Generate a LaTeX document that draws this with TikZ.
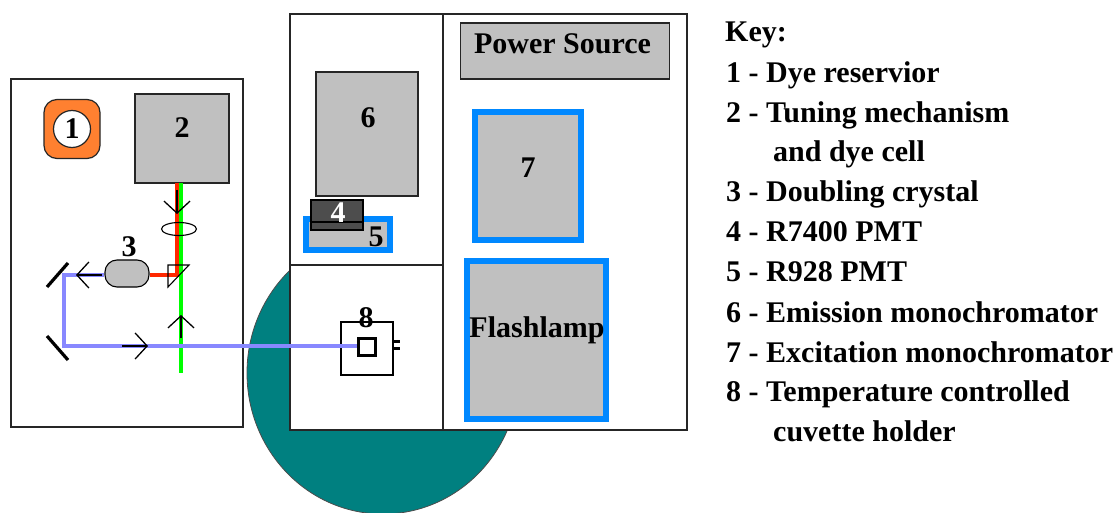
\documentclass[tikz,border=0pt]{standalone}
\usepackage{fontspec}
\setmainfont{Liberation Serif}
\usepackage{tikz}
\usetikzlibrary{arrows.meta,shapes.geometric}
\definecolor{panelgray}{RGB}{192,192,192}
\definecolor{darkgray4}{RGB}{77,77,77}
\definecolor{lampblue}{RGB}{0,136,255}
\definecolor{beamblue}{RGB}{136,136,255}
\definecolor{beamgreen}{RGB}{0,255,0}
\definecolor{beamred}{RGB}{255,40,0}
\definecolor{dyeorange}{RGB}{255,128,48}
\definecolor{teal8}{RGB}{0,128,128}
\tikzset{
  panel/.style={draw=black!85,line width=1.6pt,fill=white,inner sep=0pt},
  grybox/.style={draw=black!85,line width=1.4pt,fill=panelgray,inner sep=0pt},
  lampbox/.style={draw=lampblue,line width=6pt,fill=panelgray,inner sep=0pt},
  bigtxt/.style={font=\fontsize{30}{30}\selectfont\bfseries,inner sep=0pt},
  numtxt/.style={font=\fontsize{30}{30}\selectfont\bfseries,inner sep=0pt},
  keytxt/.style={font=\fontsize{30}{30}\selectfont\bfseries,inner sep=0pt,anchor=base west},
  beamarrow/.style={draw=black,line width=1.3pt,-{Straight Barb[length=12pt,width=26pt,line width=1.3pt]}}
}
\begin{document}
\begin{tikzpicture}[x=1pt,y=-1pt]
\useasboundingbox (0,0) rectangle (1114,513);
\begin{scope}
\clip (0,0) rectangle (1114,513);
\draw[black!70,line width=0.8pt,fill=teal8] (383,373) ellipse [x radius=136,y radius=141];
\end{scope}
% left panel
\node[panel,minimum width=232pt,minimum height=348pt] (dyelaser) at (127,253) {};
\node[draw=black!85,line width=1.2pt,fill=dyeorange,rounded corners=13pt,minimum width=56pt,minimum height=59pt,inner sep=0pt] (dyeres) at (72,129) {};
\node[circle,draw=black!85,line width=1.2pt,fill=white,minimum size=37pt,inner sep=0pt,numtxt] (one) at (72,129) {1};
\node[grybox,minimum width=94pt,minimum height=89pt] (tuning) at (182,138.5) {};
\node[numtxt] (lab2) at (182,128) {2};
% main panel
\node[panel,minimum width=397pt,minimum height=416pt] (mainbox) at (488.5,222) {};
\coordinate (vtop) at (443,14);
\coordinate (vbot) at (443,430);
\coordinate (hleft) at (290,265);
\coordinate (hright) at (443,265);
\draw[draw=black!85,line width=1.4pt] (vtop) -- (vbot);
\draw[draw=black!85,line width=1.4pt] (hleft) -- (hright);
\node[grybox,minimum width=209pt,minimum height=56pt] (power) at (565,51) {};
\node[bigtxt] (lablpower) at (562.5,44) {Power Source};
\node[grybox,minimum width=102pt,minimum height=124pt] (emission) at (367,134) {};
\node[numtxt] (lab6) at (368,118) {6};
\node[lampbox,minimum width=106pt,minimum height=127.5pt] (excit) at (528,176) {};
\node[numtxt] (lab7) at (528,168) {7};
\node[lampbox,minimum width=139pt,minimum height=157pt] (flash) at (536.5,340) {};
\node[bigtxt] (lablamp) at (537,330) {Flashlamp};
\node[lampbox,minimum width=84.5pt,minimum height=31pt] (pmtfive) at (348,234.5) {};
\node[numtxt] (lab5) at (376,237) {5};
\node[draw=black,line width=1.2pt,fill=darkgray4,minimum width=52pt,minimum height=30pt,inner sep=0pt] (pmtfour) at (337,215) {};
\coordinate (fourl) at (311,222);
\coordinate (fourr) at (363,222);
\draw[black,line width=1.2pt] (fourl) -- (fourr);
\node[numtxt,text=white] (lab4) at (338,213) {4};
% cuvette holder
\node[draw=black,line width=1.1pt,fill=white,minimum width=52pt,minimum height=53pt,inner sep=0pt] (holder) at (367,348.5) {};
\coordinate (tickaa) at (393,341);
\coordinate (tickab) at (400,341);
\coordinate (tickba) at (393,348.5);
\coordinate (tickbb) at (400,348.5);
\draw[line width=3pt] (tickaa) -- (tickab);
\draw[line width=3pt] (tickba) -- (tickbb);
% beams
\coordinate (greentop) at (181,183);
\coordinate (greenbot) at (181,373);
\coordinate (redtop) at (177,183);
\coordinate (redbend) at (177,275);
\coordinate (mirrortop) at (64,275);
\coordinate (mirrorbot) at (64,346);
\node[draw=black,line width=3.6pt,fill=white,minimum size=17pt,inner sep=0pt] (cuvette) at (367,347) {};
\node[draw=black,line width=1.1pt,fill=panelgray,rounded corners=12pt,minimum width=44pt,minimum height=27pt,inner sep=0pt] (crystal) at (127,273.5) {};
\draw[beamgreen,line width=4pt] (greentop) -- (greenbot);
\draw[beamred,line width=4pt] (redtop) -- (redbend) -- (crystal.east |- redbend);
\draw[beamblue,line width=3.2pt] (crystal.west |- mirrortop) -- (mirrortop) -- (mirrorbot) -- (cuvette.west |- mirrorbot);
\node[numtxt] (lab3) at (129,247) {3};
\node[numtxt] (lab8) at (366,318) {8};
% optics
\node[ellipse,draw=black,line width=1.1pt,minimum width=35pt,minimum height=13pt,inner sep=0pt] (lens) at (179,229) {};
\coordinate (prisma) at (168,265);
\coordinate (prismb) at (189,265);
\coordinate (prismc) at (168,287);
\draw[line width=1.1pt] (prisma) -- (prismb) -- (prismc) -- cycle;
\coordinate (mtl) at (47,287);
\coordinate (mtr) at (68,263);
\coordinate (mbl) at (47,336);
\coordinate (mbr) at (68,360);
\draw[line width=3.2pt] (mtl) -- (mtr);
\draw[line width=3.2pt] (mbl) -- (mbr);
% arrows
\coordinate (arra) at (177,190);
\coordinate (arrb) at (177,214);
\coordinate (arrc) at (102,275);
\coordinate (arrd) at (76,275);
\coordinate (arre) at (122,346);
\coordinate (arrf) at (148,346);
\coordinate (arrg) at (181,338);
\coordinate (arrh) at (181,315);
\draw[beamarrow] (arra) -- (arrb);
\draw[beamarrow] (arrc) -- (arrd);
\draw[beamarrow] (arre) -- (arrf);
\draw[beamarrow] (arrg) -- (arrh);
% key
\node[keytxt] (keyhead) at (725,42) {Key:};
\node[keytxt] (keya) at (726,83) {1 - Dye reservior};
\node[keytxt] (keyb) at (726,123) {2 - Tuning mechanism};
\node[keytxt] (keybb) at (773,162) {and dye cell};
\node[keytxt] (keyc) at (726,202) {3 - Doubling crystal};
\node[keytxt] (keyd) at (726,242) {4 - R7400 PMT};
\node[keytxt] (keye) at (726,281) {5 - R928 PMT};
\node[keytxt] (keyf) at (726,322) {6 - Emission monochromator};
\node[keytxt] (keyg) at (726,362) {7 - Excitation monochromator};
\node[keytxt] (keyh) at (726,401) {8 - Temperature controlled};
\node[keytxt] (keyhh) at (773,441) {cuvette holder};
\end{tikzpicture}
\end{document}
